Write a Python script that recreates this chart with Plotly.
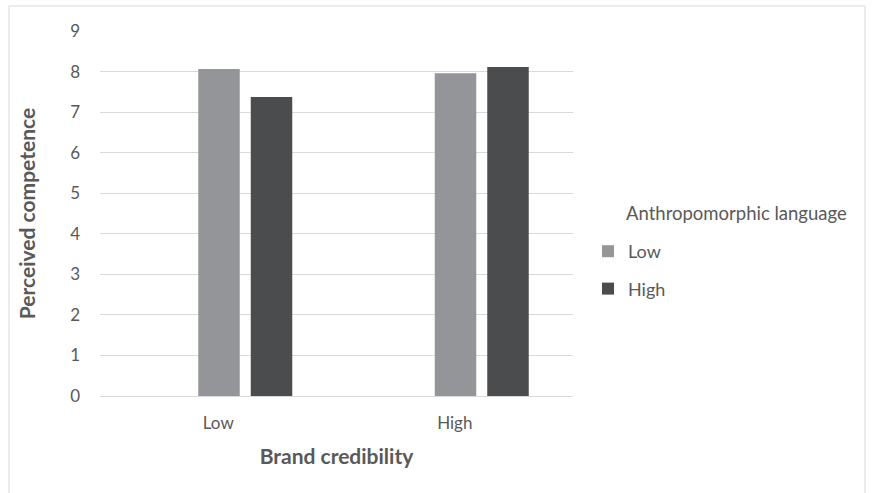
import plotly.graph_objects as go

categories = ["Low", "High"]
series_names = ["Low", "High"]
values_low = [8.06, 7.96]
values_high = [7.37, 8.11]
y_ticks = [0, 1, 2, 3, 4, 5, 6, 7, 8, 9]

colors = ["#939598", "#4b4c4e"]
font_family = "Lato, 'Open Sans', sans-serif"
text_color = "#595959"

# Excel-style clustered layout with an empty first slot: bar width and offsets in category units
bar_width = 0.1755
offsets = [-0.0846, 0.1374]

fig = go.Figure()
for i, (name, vals) in enumerate(zip(series_names, [values_low, values_high])):
    fig.add_trace(go.Bar(
        x=categories, y=vals, name=name,
        width=bar_width, offset=offsets[i],
        marker=dict(color=colors[i], line=dict(width=0)),
        legendgroup=name,
    ))

L, R, T, B = 100, 301, 31, 97
W, H = 874, 493
pw, ph = W - L - R, H - T - B

def px_x(x):
    return (x - L) / pw

def px_y(y):
    return (H - B - y) / ph

fig.update_layout(
    width=W, height=H,
    margin=dict(l=L, r=R, t=T, b=B, pad=0),
    paper_bgcolor="white", plot_bgcolor="white",
    barmode="overlay",
    font=dict(family=font_family, color=text_color, size=17),
    xaxis=dict(
        showline=True, linecolor="#d9d9d9", linewidth=1,
        ticks="", ticklabelstandoff=12, tickfont=dict(size=17, color=text_color),
        title=dict(text="<b>Brand credibility</b>", font=dict(size=21, color=text_color), standoff=16),
    ),
    yaxis=dict(
        range=[0, 9], tickvals=y_ticks, showgrid=True, gridcolor="#d9d9d9", gridwidth=1,
        zeroline=False, ticks="", ticklabelstandoff=19,
        tickfont=dict(size=17, color=text_color),
        title=dict(text="<b>Perceived competence</b>", font=dict(size=21, color=text_color), standoff=28),
    ),
    legend=dict(
        font=dict(size=18, color=text_color),
        x=px_x(588), y=px_y(233), xanchor="left", yanchor="top",
        tracegroupgap=11, bgcolor="rgba(0,0,0,0)",
    ),
    annotations=[dict(
        text="Anthropomorphic language", xref="paper", yref="paper",
        x=px_x(624), y=px_y(213), xanchor="left", yanchor="middle",
        showarrow=False, font=dict(size=18.5, color=text_color),
    )],
    shapes=[dict(
        type="rect", xref="paper", yref="paper",
        x0=px_x(9), x1=px_x(865),
        y0=px_y(520), y1=px_y(6),
        line=dict(color="#d9d9d9", width=1), fillcolor="rgba(0,0,0,0)", layer="below",
    )],
)

fig.write_html("out.html")
